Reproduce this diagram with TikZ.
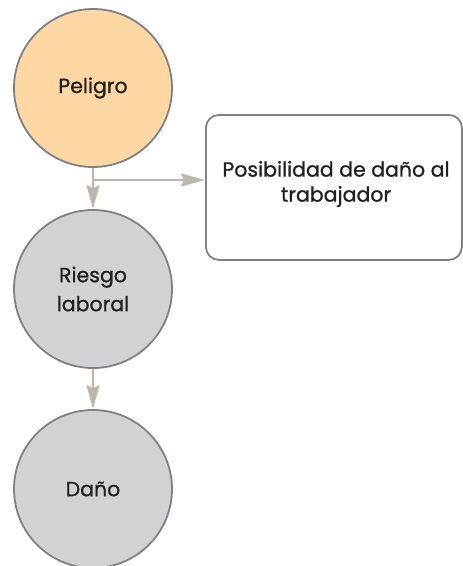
\documentclass[tikz,border=0pt]{standalone}
\usepackage{fontspec}
\setmainfont[FakeBold=0.9]{Poppins}
\usepackage{xcolor}
\usetikzlibrary{arrows.meta}

\definecolor{peligrofill}{HTML}{FDD8A4}
\definecolor{grisfill}{HTML}{D1D2D4}
\definecolor{borde}{HTML}{7F8083}
\definecolor{flecha}{HTML}{BDB6AA}
\definecolor{texto}{HTML}{231F20}

\begin{document}
\begin{tikzpicture}[x=1pt, y=-1pt,
	circulo/.style = {circle, draw=borde, line width=1.8pt, minimum size=158pt, inner sep=0pt,
		align=center, text=texto, font=\fontsize{20.5}{29}\selectfont},
	caja/.style = {draw=borde, line width=1.8pt, rounded corners=13pt, minimum width=256pt,
		minimum height=145pt},
	conector/.style = {draw=flecha, line width=2pt, -{Stealth[length=24pt, width=13pt, inset=3pt]}}]
	\useasboundingbox (0,0) rectangle (463,566);

	\node[circulo, fill=peligrofill] (peligro) at (93,88) {Peligro};
	\node[circulo, fill=grisfill] (riesgo) at (93,289) {Riesgo\\laboral};
	\node[circulo, fill=grisfill] (dano) at (93,489) {Daño};

	\node[caja, anchor=north west] (efecto) at (205,114) {};
	\node[text=texto, font=\fontsize{20.5}{25}\selectfont, align=center] (efectotxt) at (336,184)
		{Posibilidad de daño al\\trabajador};

	\coordinate (rama) at (93,180);
	\draw[conector] (peligro.south) -- (riesgo.north);
	\draw[conector] (rama) -- (rama -| efecto.west);
	\draw[conector] (riesgo.south) -- (dano.north);
\end{tikzpicture}
\end{document}
